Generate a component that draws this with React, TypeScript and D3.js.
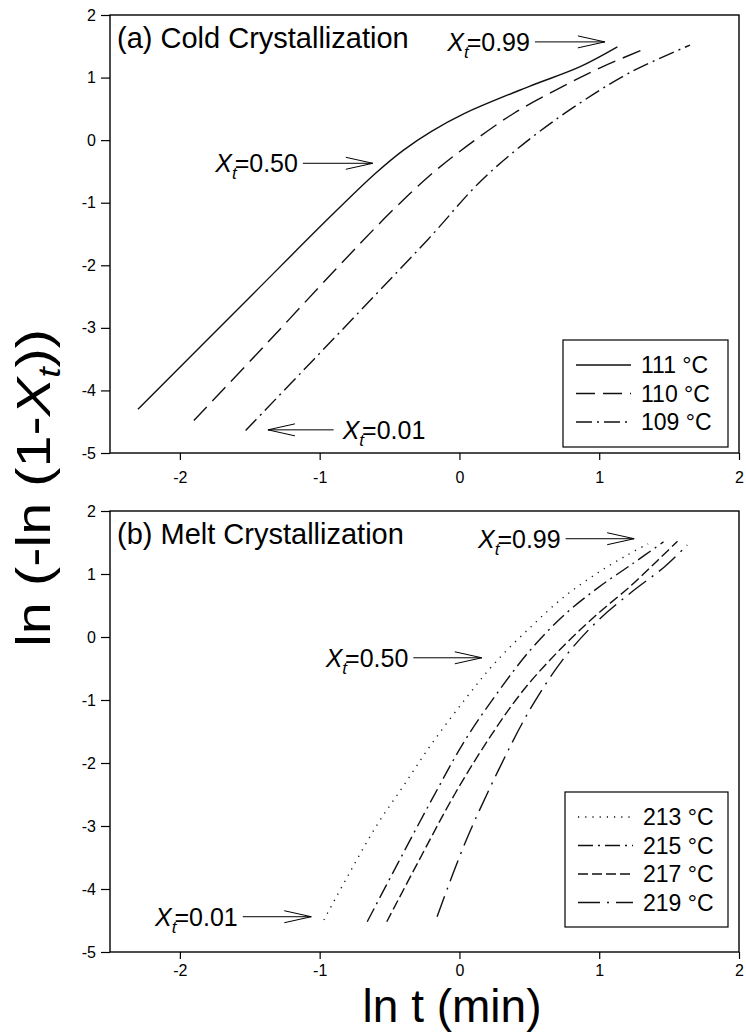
import React, { useEffect, useRef } from 'react';
import * as d3 from 'd3';

const svgWidth = 746,
    svgHeight = 1033;

const fontFamily = '"Liberation Sans", Arial, Helvetica, sans-serif';

// axis ticks (both panels share them)
const xTicks = [-2, -1, 0, 1, 2];
const yTicks = [-5, -4, -3, -2, -1, 0, 1, 2];

// (a) cold crystallization: [ln t, ln(-ln(1-Xt))]
const cold111 = [[-2.30, -4.30], [-1.50, -2.51], [-0.90, -1.17], [-0.60, -0.53], [-0.40, -0.16], [-0.20, 0.14], [0.03, 0.42], [0.50, 0.86], [0.86, 1.17], [1.13, 1.49]];
const cold110 = [[-1.90, -4.48], [-1.40, -3.30], [-0.90, -2.10], [-0.50, -1.17], [-0.21, -0.56], [0.05, -0.10], [0.39, 0.43], [0.74, 0.86], [1.03, 1.18], [1.34, 1.47]];
const cold109 = [[-1.53, -4.64], [-1.04, -3.50], [-0.60, -2.47], [-0.21, -1.55], [0.15, -0.66], [0.51, 0.03], [0.86, 0.59], [1.22, 1.08], [1.65, 1.52]];

// (b) melt crystallization
const melt213 = [[-0.97, -4.49], [-0.80, -3.80], [-0.60, -3.02], [-0.40, -2.36], [-0.20, -1.70], [0.04, -0.99], [0.25, -0.42], [0.51, 0.16], [0.75, 0.64], [0.99, 1.02], [1.20, 1.30], [1.35, 1.48]];
const melt215 = [[-0.66, -4.52], [-0.44, -3.59], [-0.20, -2.59], [0.04, -1.64], [0.28, -0.86], [0.51, -0.20], [0.75, 0.35], [0.99, 0.78], [1.23, 1.15], [1.46, 1.51]];
const melt217 = [[-0.52, -4.52], [-0.30, -3.59], [-0.03, -2.48], [0.23, -1.55], [0.47, -0.81], [0.75, -0.13], [0.99, 0.37], [1.23, 0.82], [1.42, 1.22], [1.56, 1.52]];
const melt219 = [[-0.16, -4.44], [0.04, -3.27], [0.28, -2.11], [0.51, -1.13], [0.75, -0.33], [0.99, 0.26], [1.23, 0.71], [1.47, 1.12], [1.63, 1.46]];

const coldLabels = ['111 °C', '110 °C', '109 °C'];
const meltLabels = ['213 °C', '215 °C', '217 °C', '219 °C'];

// annotation arrows: [tail x, tail y, tip x, tip y] in data units
const coldArrows = [
    { text: '0.99', arrow: [0.54, 1.57, 1.04, 1.57] },
    { text: '0.50', arrow: [-1.12, -0.37, -0.62, -0.37] },
    { text: '0.01', arrow: [-0.90, -4.63, -1.37, -4.63] },
];
const meltArrows = [
    { text: '0.99', arrow: [0.76, 1.56, 1.25, 1.56] },
    { text: '0.50', arrow: [-0.33, -0.33, 0.16, -0.33] },
    { text: '0.01', arrow: [-1.55, -4.44, -1.06, -4.44] },
];

const coldDash = [null, '19,8', '16,5,2,5'];
const meltDash = ['1.2,6', '15,5,2,5', '10,4', '22,7,2,7'];

export default function App() {
    const svgRef = useRef<SVGSVGElement>(null);

    useEffect(() => {
        const svg = d3.select(svgRef.current);
        svg.selectAll('*').remove();

        const left = 110, right = 739;

        function drawPanel(top: number, bottom: number, title: string, series: number[][][],
                           dashes: (string | null)[], labels: string[], arrows: any[], legendBox: number[], pad: number) {
            const x = d3.scaleLinear().domain([-2.5, 2]).range([left, right]);
            const y = d3.scaleLinear().domain([-5, 2]).range([bottom, top]);
            const g = svg.append('g');

            // x axis
            g.append('g')
                .attr('transform', `translate(0,${bottom})`)
                .call(d3.axisBottom(x).tickValues(xTicks).tickSize(7).tickSizeOuter(0).tickPadding(pad).tickFormat(d => String(d)))
                .call(a => a.select('.domain').remove())
                .attr('font-size', 16).attr('font-family', fontFamily);

            // y axis
            g.append('g')
                .attr('transform', `translate(${left},0)`)
                .call(d3.axisLeft(y).tickValues(yTicks).tickSize(9).tickSizeOuter(0).tickPadding(5).tickFormat(d => String(d)))
                .call(a => a.select('.domain').remove())
                .attr('font-size', 16).attr('font-family', fontFamily);

            g.selectAll('.tick line').attr('stroke', '#000').attr('stroke-width', 1.2);

            // frame
            g.append('rect')
                .attr('x', left).attr('y', top)
                .attr('width', right - left).attr('height', bottom - top)
                .attr('fill', 'none').attr('stroke', '#000').attr('stroke-width', 1.4);

            const line = d3.line<number[]>()
                .x(d => x(d[0]))
                .y(d => y(d[1]))
                .curve(d3.curveCatmullRom.alpha(0.5));

            series.forEach((s, i) => {
                g.append('path')
                    .datum(s)
                    .attr('d', line)
                    .attr('fill', 'none')
                    .attr('stroke', '#111')
                    .attr('stroke-width', 1.4)
                    .attr('stroke-dasharray', dashes[i]);
            });

            // panel title
            g.append('text')
                .attr('x', left + 7).attr('y', top + 33)
                .attr('font-size', 29).attr('font-family', fontFamily)
                .text(title);

            // arrows with X_t labels
            arrows.forEach(a => {
                const [tx, ty, hx, hy] = a.arrow;
                const x0 = x(tx), y0 = y(ty), x1 = x(hx), y1 = y(hy);
                const dir = Math.sign(x1 - x0);
                g.append('line')
                    .attr('x1', x0).attr('y1', y0).attr('x2', x1).attr('y2', y1)
                    .attr('stroke', '#000').attr('stroke-width', 1);
                g.append('path')
                    .attr('d', `M${x1 - dir * 27},${y1 - 6}L${x1},${y1}L${x1 - dir * 27},${y1 + 6}`)
                    .attr('fill', 'none').attr('stroke', '#000').attr('stroke-width', 1);
                const t = g.append('text')
                    .attr('x', dir > 0 ? x0 - 5 : x0 + 9)
                    .attr('y', y0 + 9)
                    .attr('text-anchor', dir > 0 ? 'end' : 'start')
                    .attr('font-size', 25).attr('font-family', fontFamily);
                t.append('tspan').attr('font-style', 'italic').text('X');
                t.append('tspan').attr('font-style', 'italic').attr('font-size', 17).attr('dy', 7).text('t');
                t.append('tspan').attr('dy', -7).attr('dx', -2).text('=' + a.text);
            });

            // legend
            const [lx, ly, lw, lh] = legendBox;
            g.append('rect')
                .attr('x', lx).attr('y', ly).attr('width', lw).attr('height', lh)
                .attr('fill', '#fff').attr('stroke', '#000').attr('stroke-width', 1.2);
            labels.forEach((lab, i) => {
                const cy = ly + 25 + i * 28.5;
                g.append('line')
                    .attr('x1', lx + 13).attr('x2', lx + 68)
                    .attr('y1', cy).attr('y2', cy)
                    .attr('stroke', '#111').attr('stroke-width', 1.4)
                    .attr('stroke-dasharray', dashes[i]);
                g.append('text')
                    .attr('x', lx + 78).attr('y', cy + 8)
                    .attr('font-size', 23).attr('font-family', fontFamily)
                    .text(lab);
            });
        }

        drawPanel(15, 453, '(a) Cold Crystallization', [cold111, cold110, cold109],
            coldDash, coldLabels, coldArrows, [563, 340, 165, 107], 12);
        drawPanel(511, 952, '(b) Melt Crystallization', [melt213, melt215, melt217, melt219],
            meltDash, meltLabels, meltArrows, [565, 792, 163, 135], 6);

        // axis titles
        svg.append('text')
            .attr('x', 452).attr('y', 1022)
            .attr('text-anchor', 'middle')
            .attr('font-size', 46).attr('font-family', fontFamily)
            .text('ln t (min)');

        const yt = svg.append('text')
            .attr('transform', 'translate(50,488) rotate(-90)')
            .attr('text-anchor', 'middle')
            .attr('font-size', 48).attr('font-family', fontFamily)
            .attr('textLength', 318).attr('lengthAdjust', 'spacingAndGlyphs');
        yt.append('tspan').text('ln (-ln (1-');
        yt.append('tspan').attr('font-style', 'italic').text('X');
        yt.append('tspan').attr('font-style', 'italic').attr('font-size', 31).attr('dy', 10).text('t');
        yt.append('tspan').attr('dy', -10).text('))');
    }, []);

    return (
        <div>
            <svg ref={svgRef} width={svgWidth} height={svgHeight}
                 style={{ position: 'absolute', left: 0, top: 0, background: '#fff' }} />
        </div>
    );
}
